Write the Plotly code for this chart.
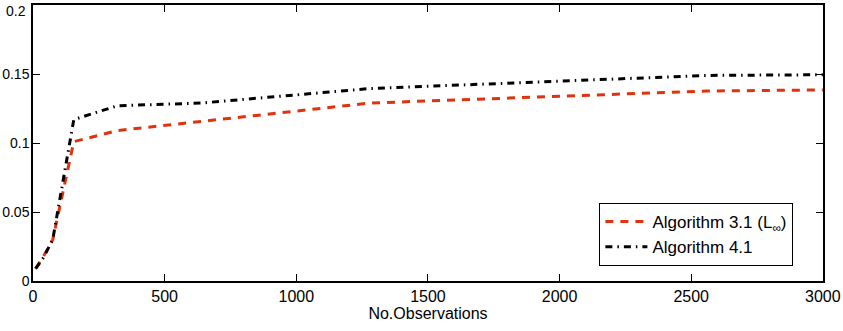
import plotly.graph_objects as go

observations = [10, 40, 75, 155, 320, 640, 1280, 2560, 3000]
alg31_values = [0.009, 0.018, 0.030, 0.101, 0.109, 0.1155, 0.129, 0.1377, 0.1385]
alg41_values = [0.009, 0.017, 0.030, 0.117, 0.127, 0.129, 0.1395, 0.149, 0.1495]

x_ticks = [0, 500, 1000, 1500, 2000, 2500, 3000]
y_ticks = [0, 0.05, 0.1, 0.15, 0.2]
y_tick_labels = ["0", "0.05", "0.1", "0.15", "0.2"]

series_names = ["Algorithm 3.1 (L<sub>∞</sub>)", "Algorithm 4.1"]

FONT = "Liberation Sans, Arial, sans-serif"

fig = go.Figure()
fig.add_trace(go.Scatter(
    x=observations, y=alg31_values, mode="lines", name=series_names[0],
    line=dict(color="#e0320c", width=3, dash="8px,7px"),
))
fig.add_trace(go.Scatter(
    x=observations, y=alg41_values, mode="lines", name=series_names[1],
    line=dict(color="#000000", width=3, dash="7px,5px,1.5px,5px"),
))

axis_common = dict(
    showline=True, linecolor="black", linewidth=1.5, mirror="ticks",
    ticks="inside", ticklen=7, tickwidth=1, tickcolor="black",
    showgrid=False, zeroline=False, automargin=False,
    ticklabeloverflow="allow",
)

# the top label (0.2) sits at the very top edge; draw it as an annotation
# nudged just inside the page so it is not clipped
shown_y_labels = y_tick_labels[:-1] + [""]

fig.update_layout(
    width=843, height=331,
    margin=dict(l=33, r=20, t=5, b=50, autoexpand=False),
    paper_bgcolor="white", plot_bgcolor="white",
    font=dict(family=FONT, size=16, color="black"),
    xaxis=dict(range=[0, 3000.5], tickvals=x_ticks,
               tickfont=dict(family=FONT, size=16, color="black"),
               ticklabelstandoff=0,
               title=dict(text="No.Observations", standoff=0,
                          font=dict(family=FONT, size=16, color="black")),
               **axis_common),
    yaxis=dict(range=[0, 0.20005], tickvals=y_ticks, ticktext=shown_y_labels,
               tickfont=dict(family=FONT, size=14, color="black"),
               ticklabelstandoff=-1,
               **axis_common),
    legend=dict(
        x=0.9625, xanchor="right", y=0.2826, yanchor="top",
        bgcolor="white", bordercolor="black", borderwidth=1,
        itemwidth=42,
        font=dict(family=FONT, size=17, color="black"),
    ),
    annotations=[dict(
        text=y_tick_labels[-1], xref="paper", yref="paper", x=0, y=1,
        xanchor="right", yanchor="top", xshift=-5, yshift=4,
        showarrow=False, font=dict(family=FONT, size=14, color="black"),
    )],
    showlegend=True,
)

fig.write_html("out.html", config={"displayModeBar": False},
               post_script="document.body.style.margin='0px';")
